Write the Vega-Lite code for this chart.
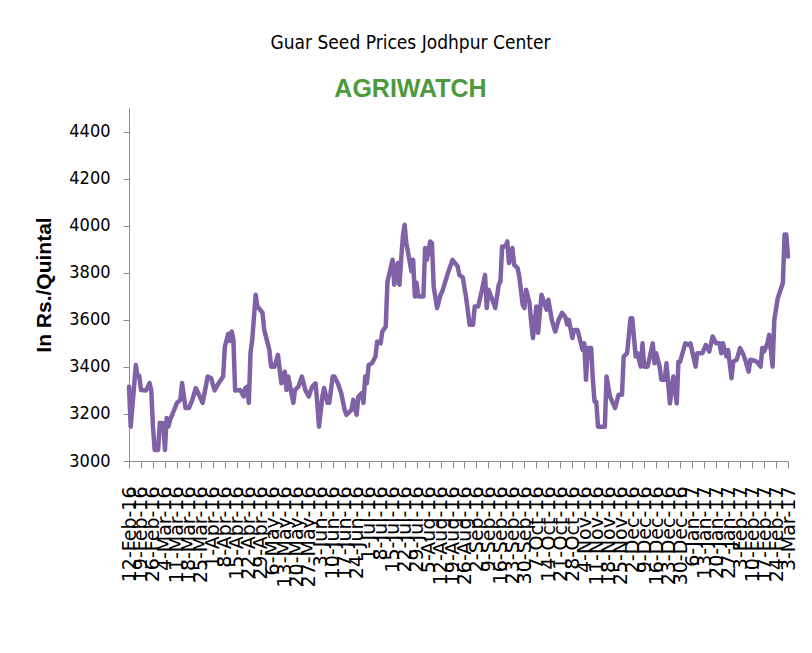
{
  "$schema": "https://vega.github.io/schema/vega-lite/v6.json",
  "width": 659,
  "height": 353,
  "autosize": {"type": "none"},
  "padding": {"left": 129, "top": 108, "right": 24, "bottom": 192},
  "background": "white",
  "title": {
    "text": "Guar Seed Prices Jodhpur Center",
    "subtitle": "AGRIWATCH",
    "anchor": "middle",
    "dx": -48,
    "offset": 6,
    "font": "DejaVu Sans Condensed, Liberation Sans, sans-serif",
    "fontSize": 19,
    "fontWeight": "normal",
    "color": "#000000",
    "subtitleFont": "Liberation Sans, sans-serif",
    "subtitleFontSize": 25,
    "subtitleFontWeight": "bold",
    "subtitleColor": "#4C9A3C",
    "subtitlePadding": 24
  },
  "config": {
    "view": {"stroke": null},
    "axis": {"grid": false, "domainColor": "#8C8C8C", "tickColor": "#8C8C8C", "labelColor": "#000000", "titleColor": "#000000"}
  },
  "data": {
    "values": [
      {"date": "2016-02-12", "price": 3316},
      {"date": "2016-02-13", "price": 3146},
      {"date": "2016-02-16", "price": 3408},
      {"date": "2016-02-17", "price": 3359},
      {"date": "2016-02-18", "price": 3362},
      {"date": "2016-02-19", "price": 3302},
      {"date": "2016-02-22", "price": 3300},
      {"date": "2016-02-24", "price": 3331},
      {"date": "2016-02-25", "price": 3300},
      {"date": "2016-02-26", "price": 3146},
      {"date": "2016-02-27", "price": 3047},
      {"date": "2016-02-29", "price": 3047},
      {"date": "2016-03-01", "price": 3162},
      {"date": "2016-03-03", "price": 3160},
      {"date": "2016-03-04", "price": 3047},
      {"date": "2016-03-05", "price": 3183},
      {"date": "2016-03-06", "price": 3146},
      {"date": "2016-03-07", "price": 3175},
      {"date": "2016-03-09", "price": 3210},
      {"date": "2016-03-11", "price": 3247},
      {"date": "2016-03-13", "price": 3260},
      {"date": "2016-03-14", "price": 3331},
      {"date": "2016-03-16", "price": 3225},
      {"date": "2016-03-18", "price": 3225},
      {"date": "2016-03-20", "price": 3260},
      {"date": "2016-03-22", "price": 3310},
      {"date": "2016-03-23", "price": 3296},
      {"date": "2016-03-26", "price": 3247},
      {"date": "2016-03-29", "price": 3359},
      {"date": "2016-03-31", "price": 3352},
      {"date": "2016-04-02", "price": 3300},
      {"date": "2016-04-05", "price": 3338},
      {"date": "2016-04-07", "price": 3359},
      {"date": "2016-04-08", "price": 3486},
      {"date": "2016-04-10", "price": 3540},
      {"date": "2016-04-11", "price": 3510},
      {"date": "2016-04-12", "price": 3550},
      {"date": "2016-04-13", "price": 3515},
      {"date": "2016-04-14", "price": 3300},
      {"date": "2016-04-17", "price": 3302},
      {"date": "2016-04-19", "price": 3274},
      {"date": "2016-04-20", "price": 3310},
      {"date": "2016-04-21", "price": 3316},
      {"date": "2016-04-22", "price": 3247},
      {"date": "2016-04-23", "price": 3460},
      {"date": "2016-04-24", "price": 3515},
      {"date": "2016-04-26", "price": 3706},
      {"date": "2016-04-27", "price": 3657},
      {"date": "2016-04-30", "price": 3630},
      {"date": "2016-05-01", "price": 3557},
      {"date": "2016-05-04", "price": 3472},
      {"date": "2016-05-05", "price": 3401},
      {"date": "2016-05-07", "price": 3401},
      {"date": "2016-05-09", "price": 3451},
      {"date": "2016-05-11", "price": 3330},
      {"date": "2016-05-13", "price": 3380},
      {"date": "2016-05-14", "price": 3302},
      {"date": "2016-05-15", "price": 3359},
      {"date": "2016-05-18", "price": 3247},
      {"date": "2016-05-19", "price": 3302},
      {"date": "2016-05-21", "price": 3316},
      {"date": "2016-05-23", "price": 3359},
      {"date": "2016-05-25", "price": 3302},
      {"date": "2016-05-27", "price": 3274},
      {"date": "2016-05-29", "price": 3316},
      {"date": "2016-05-31", "price": 3330},
      {"date": "2016-06-01", "price": 3247},
      {"date": "2016-06-02", "price": 3146},
      {"date": "2016-06-04", "price": 3274},
      {"date": "2016-06-05", "price": 3310},
      {"date": "2016-06-07", "price": 3247},
      {"date": "2016-06-08", "price": 3247},
      {"date": "2016-06-10", "price": 3359},
      {"date": "2016-06-11", "price": 3359},
      {"date": "2016-06-13", "price": 3330},
      {"date": "2016-06-15", "price": 3288},
      {"date": "2016-06-17", "price": 3217},
      {"date": "2016-06-18", "price": 3196},
      {"date": "2016-06-21", "price": 3217},
      {"date": "2016-06-22", "price": 3260},
      {"date": "2016-06-24", "price": 3196},
      {"date": "2016-06-25", "price": 3274},
      {"date": "2016-06-27", "price": 3288},
      {"date": "2016-06-28", "price": 3247},
      {"date": "2016-06-29", "price": 3359},
      {"date": "2016-06-30", "price": 3330},
      {"date": "2016-07-01", "price": 3408},
      {"date": "2016-07-03", "price": 3416},
      {"date": "2016-07-05", "price": 3444},
      {"date": "2016-07-06", "price": 3508},
      {"date": "2016-07-08", "price": 3500},
      {"date": "2016-07-09", "price": 3550},
      {"date": "2016-07-11", "price": 3571},
      {"date": "2016-07-12", "price": 3763},
      {"date": "2016-07-15", "price": 3855},
      {"date": "2016-07-16", "price": 3749},
      {"date": "2016-07-18", "price": 3841},
      {"date": "2016-07-19", "price": 3749},
      {"date": "2016-07-20", "price": 3855},
      {"date": "2016-07-21", "price": 3955},
      {"date": "2016-07-22", "price": 4004},
      {"date": "2016-07-23", "price": 3927},
      {"date": "2016-07-26", "price": 3806},
      {"date": "2016-07-27", "price": 3855},
      {"date": "2016-07-28", "price": 3699},
      {"date": "2016-07-29", "price": 3757},
      {"date": "2016-07-30", "price": 3699},
      {"date": "2016-08-02", "price": 3699},
      {"date": "2016-08-03", "price": 3905},
      {"date": "2016-08-04", "price": 3855},
      {"date": "2016-08-06", "price": 3933},
      {"date": "2016-08-07", "price": 3925},
      {"date": "2016-08-08", "price": 3741},
      {"date": "2016-08-10", "price": 3650},
      {"date": "2016-08-12", "price": 3706},
      {"date": "2016-08-13", "price": 3720},
      {"date": "2016-08-16", "price": 3791},
      {"date": "2016-08-19", "price": 3855},
      {"date": "2016-08-22", "price": 3827},
      {"date": "2016-08-23", "price": 3791},
      {"date": "2016-08-25", "price": 3780},
      {"date": "2016-08-27", "price": 3692},
      {"date": "2016-08-29", "price": 3579},
      {"date": "2016-08-31", "price": 3579},
      {"date": "2016-09-01", "price": 3657},
      {"date": "2016-09-03", "price": 3657},
      {"date": "2016-09-05", "price": 3720},
      {"date": "2016-09-07", "price": 3791},
      {"date": "2016-09-08", "price": 3650},
      {"date": "2016-09-09", "price": 3728},
      {"date": "2016-09-12", "price": 3671},
      {"date": "2016-09-13", "price": 3650},
      {"date": "2016-09-15", "price": 3749},
      {"date": "2016-09-16", "price": 3763},
      {"date": "2016-09-17", "price": 3912},
      {"date": "2016-09-19", "price": 3912},
      {"date": "2016-09-20", "price": 3933},
      {"date": "2016-09-21", "price": 3841},
      {"date": "2016-09-23", "price": 3905},
      {"date": "2016-09-24", "price": 3834},
      {"date": "2016-09-26", "price": 3820},
      {"date": "2016-09-27", "price": 3784},
      {"date": "2016-09-29", "price": 3664},
      {"date": "2016-09-30", "price": 3650},
      {"date": "2016-10-01", "price": 3728},
      {"date": "2016-10-03", "price": 3671},
      {"date": "2016-10-04", "price": 3587},
      {"date": "2016-10-05", "price": 3523},
      {"date": "2016-10-07", "price": 3657},
      {"date": "2016-10-08", "price": 3545},
      {"date": "2016-10-10", "price": 3706},
      {"date": "2016-10-12", "price": 3664},
      {"date": "2016-10-13", "price": 3643},
      {"date": "2016-10-14", "price": 3685},
      {"date": "2016-10-16", "price": 3600},
      {"date": "2016-10-18", "price": 3550},
      {"date": "2016-10-20", "price": 3600},
      {"date": "2016-10-22", "price": 3630},
      {"date": "2016-10-24", "price": 3610},
      {"date": "2016-10-25", "price": 3580},
      {"date": "2016-10-26", "price": 3600},
      {"date": "2016-10-28", "price": 3523},
      {"date": "2016-10-29", "price": 3557},
      {"date": "2016-10-31", "price": 3557},
      {"date": "2016-11-03", "price": 3472},
      {"date": "2016-11-04", "price": 3500},
      {"date": "2016-11-05", "price": 3345},
      {"date": "2016-11-06", "price": 3480},
      {"date": "2016-11-08", "price": 3480},
      {"date": "2016-11-09", "price": 3345},
      {"date": "2016-11-10", "price": 3252},
      {"date": "2016-11-11", "price": 3252},
      {"date": "2016-11-12", "price": 3146},
      {"date": "2016-11-16", "price": 3146},
      {"date": "2016-11-17", "price": 3359},
      {"date": "2016-11-19", "price": 3274},
      {"date": "2016-11-22", "price": 3225},
      {"date": "2016-11-24", "price": 3281},
      {"date": "2016-11-26", "price": 3281},
      {"date": "2016-11-27", "price": 3444},
      {"date": "2016-11-29", "price": 3458},
      {"date": "2016-12-01", "price": 3607},
      {"date": "2016-12-02", "price": 3607},
      {"date": "2016-12-04", "price": 3444},
      {"date": "2016-12-05", "price": 3458},
      {"date": "2016-12-07", "price": 3401},
      {"date": "2016-12-08", "price": 3500},
      {"date": "2016-12-09", "price": 3401},
      {"date": "2016-12-11", "price": 3401},
      {"date": "2016-12-14", "price": 3500},
      {"date": "2016-12-15", "price": 3415},
      {"date": "2016-12-16", "price": 3458},
      {"date": "2016-12-18", "price": 3401},
      {"date": "2016-12-19", "price": 3345},
      {"date": "2016-12-21", "price": 3345},
      {"date": "2016-12-22", "price": 3415},
      {"date": "2016-12-24", "price": 3245},
      {"date": "2016-12-26", "price": 3359},
      {"date": "2016-12-28", "price": 3245},
      {"date": "2016-12-29", "price": 3422},
      {"date": "2016-12-30", "price": 3422},
      {"date": "2017-01-02", "price": 3500},
      {"date": "2017-01-04", "price": 3493},
      {"date": "2017-01-05", "price": 3500},
      {"date": "2017-01-08", "price": 3401},
      {"date": "2017-01-09", "price": 3458},
      {"date": "2017-01-12", "price": 3458},
      {"date": "2017-01-14", "price": 3493},
      {"date": "2017-01-16", "price": 3465},
      {"date": "2017-01-18", "price": 3529},
      {"date": "2017-01-20", "price": 3500},
      {"date": "2017-01-22", "price": 3500},
      {"date": "2017-01-23", "price": 3458},
      {"date": "2017-01-24", "price": 3500},
      {"date": "2017-01-26", "price": 3444},
      {"date": "2017-01-27", "price": 3472},
      {"date": "2017-01-29", "price": 3352},
      {"date": "2017-01-30", "price": 3422},
      {"date": "2017-02-01", "price": 3430},
      {"date": "2017-02-03", "price": 3480},
      {"date": "2017-02-05", "price": 3451},
      {"date": "2017-02-06", "price": 3430},
      {"date": "2017-02-08", "price": 3380},
      {"date": "2017-02-09", "price": 3430},
      {"date": "2017-02-12", "price": 3425},
      {"date": "2017-02-13", "price": 3420},
      {"date": "2017-02-15", "price": 3401},
      {"date": "2017-02-16", "price": 3480},
      {"date": "2017-02-17", "price": 3465},
      {"date": "2017-02-19", "price": 3500},
      {"date": "2017-02-20", "price": 3536},
      {"date": "2017-02-22", "price": 3401},
      {"date": "2017-02-23", "price": 3600},
      {"date": "2017-02-25", "price": 3692},
      {"date": "2017-02-28", "price": 3756},
      {"date": "2017-03-01", "price": 3962},
      {"date": "2017-03-02", "price": 3962},
      {"date": "2017-03-03", "price": 3869}
    ]
  },
  "mark": {"type": "line", "color": "#7F62A6", "strokeWidth": 4.5, "strokeJoin": "round", "strokeCap": "round"},
  "encoding": {
    "x": {
      "field": "date",
      "type": "temporal",
      "scale": {"type": "utc", "domain": [{"year": 2016, "month": 2, "date": 12, "utc": true}, {"year": 2017, "month": 3, "date": 3, "utc": true}], "nice": false},
      "axis": {
        "title": null,
        "labelExpr": "utcFormat(datum.value, '%-d-%b-%y')",
        "labelAngle": -90,
        "labelAlign": "right",
        "labelBaseline": "middle",
        "labelFont": "DejaVu Sans, sans-serif",
        "labelFontSize": 19,
        "labelPadding": 18,
        "labelOverlap": false,
        "labelFlush": false,
        "tickSize": 7,
        "values": [
          {"year": 2016, "month": 2, "date": 12, "utc": true},
          {"year": 2016, "month": 2, "date": 19, "utc": true},
          {"year": 2016, "month": 2, "date": 26, "utc": true},
          {"year": 2016, "month": 3, "date": 4, "utc": true},
          {"year": 2016, "month": 3, "date": 11, "utc": true},
          {"year": 2016, "month": 3, "date": 18, "utc": true},
          {"year": 2016, "month": 3, "date": 25, "utc": true},
          {"year": 2016, "month": 4, "date": 1, "utc": true},
          {"year": 2016, "month": 4, "date": 8, "utc": true},
          {"year": 2016, "month": 4, "date": 15, "utc": true},
          {"year": 2016, "month": 4, "date": 22, "utc": true},
          {"year": 2016, "month": 4, "date": 29, "utc": true},
          {"year": 2016, "month": 5, "date": 6, "utc": true},
          {"year": 2016, "month": 5, "date": 13, "utc": true},
          {"year": 2016, "month": 5, "date": 20, "utc": true},
          {"year": 2016, "month": 5, "date": 27, "utc": true},
          {"year": 2016, "month": 6, "date": 3, "utc": true},
          {"year": 2016, "month": 6, "date": 10, "utc": true},
          {"year": 2016, "month": 6, "date": 17, "utc": true},
          {"year": 2016, "month": 6, "date": 24, "utc": true},
          {"year": 2016, "month": 7, "date": 1, "utc": true},
          {"year": 2016, "month": 7, "date": 8, "utc": true},
          {"year": 2016, "month": 7, "date": 15, "utc": true},
          {"year": 2016, "month": 7, "date": 22, "utc": true},
          {"year": 2016, "month": 7, "date": 29, "utc": true},
          {"year": 2016, "month": 8, "date": 5, "utc": true},
          {"year": 2016, "month": 8, "date": 12, "utc": true},
          {"year": 2016, "month": 8, "date": 19, "utc": true},
          {"year": 2016, "month": 8, "date": 26, "utc": true},
          {"year": 2016, "month": 9, "date": 2, "utc": true},
          {"year": 2016, "month": 9, "date": 9, "utc": true},
          {"year": 2016, "month": 9, "date": 16, "utc": true},
          {"year": 2016, "month": 9, "date": 23, "utc": true},
          {"year": 2016, "month": 9, "date": 30, "utc": true},
          {"year": 2016, "month": 10, "date": 7, "utc": true},
          {"year": 2016, "month": 10, "date": 14, "utc": true},
          {"year": 2016, "month": 10, "date": 21, "utc": true},
          {"year": 2016, "month": 10, "date": 28, "utc": true},
          {"year": 2016, "month": 11, "date": 4, "utc": true},
          {"year": 2016, "month": 11, "date": 11, "utc": true},
          {"year": 2016, "month": 11, "date": 18, "utc": true},
          {"year": 2016, "month": 11, "date": 25, "utc": true},
          {"year": 2016, "month": 12, "date": 2, "utc": true},
          {"year": 2016, "month": 12, "date": 9, "utc": true},
          {"year": 2016, "month": 12, "date": 16, "utc": true},
          {"year": 2016, "month": 12, "date": 23, "utc": true},
          {"year": 2016, "month": 12, "date": 30, "utc": true},
          {"year": 2017, "month": 1, "date": 6, "utc": true},
          {"year": 2017, "month": 1, "date": 13, "utc": true},
          {"year": 2017, "month": 1, "date": 20, "utc": true},
          {"year": 2017, "month": 1, "date": 27, "utc": true},
          {"year": 2017, "month": 2, "date": 3, "utc": true},
          {"year": 2017, "month": 2, "date": 10, "utc": true},
          {"year": 2017, "month": 2, "date": 17, "utc": true},
          {"year": 2017, "month": 2, "date": 24, "utc": true},
          {"year": 2017, "month": 3, "date": 3, "utc": true}
        ]
      }
    },
    "y": {
      "field": "price",
      "type": "quantitative",
      "scale": {"domain": [3000, 4500], "nice": false, "zero": false},
      "axis": {
        "title": "In Rs./Quintal",
        "titleFont": "Liberation Sans, sans-serif",
        "titleFontSize": 21,
        "titleFontWeight": "bold",
        "titlePadding": 14,
        "values": [3000, 3200, 3400, 3600, 3800, 4000, 4200, 4400],
        "format": "d",
        "labelFont": "DejaVu Sans Condensed, Liberation Sans, sans-serif",
        "labelFontSize": 18,
        "labelPadding": 13,
        "tickSize": 6
      }
    }
  }
}
